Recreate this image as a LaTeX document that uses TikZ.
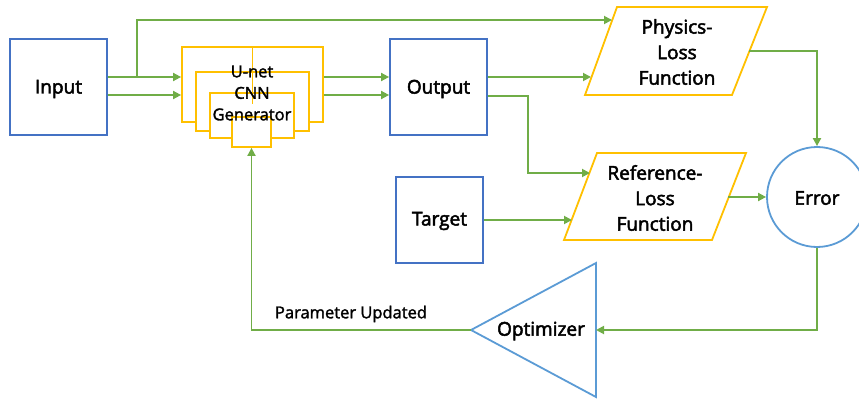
\documentclass[tikz,border=0pt]{standalone}
\usepackage{fontspec}
\setmainfont{Open Sans}
\newfontfamily\semib[FakeBold=2.6]{Open Sans}
\newfontfamily\medf[FakeBold=1.8]{Open Sans}
\usetikzlibrary{arrows.meta}
\definecolor{boxblue}{HTML}{4472C4}
\definecolor{ylw}{HTML}{FFC000}
\definecolor{grn}{HTML}{70AD47}
\definecolor{lblue}{HTML}{5B9BD5}
\begin{document}
\begin{tikzpicture}[x=1pt,y=-1pt,
  bbox/.style={draw=boxblue, line width=1.8pt, inner sep=0pt},
  ybox/.style={draw=ylw, line width=1.8pt, fill=white},
  ln/.style={draw=grn, line width=1.8pt},
  arr/.style={ln, -{Triangle[length=8pt,width=8pt]}},
  lbl/.style={font=\semib\fontsize{19}{25.5}\selectfont, align=center, inner sep=0pt},
  slbl/.style={font=\medf\fontsize{16.5}{21.5}\selectfont, align=center, inner sep=0pt}]
\useasboundingbox (0,0) rectangle (859,401);

% rows
\coordinate (r20) at (0,20);
\coordinate (r51) at (0,51);
\coordinate (r77) at (0,77);
\coordinate (r95) at (0,95);
\coordinate (r173) at (0,173);
\coordinate (r220) at (0,220);
\coordinate (r330) at (0,330);

% Input / Output / Target
\node[bbox, minimum width=97pt, minimum height=96pt] (input) at (58.5,87) {};
\node[lbl] at (58.5,89) {Input};
\node[bbox, minimum width=97pt, minimum height=96pt] (output) at (438.5,87) {};
\node[lbl] at (438.5,89) {Output};
\node[bbox, minimum width=87pt, minimum height=86pt] (target) at (439.5,220) {};
\node[lbl] at (439.5,221) {Target};

% U-net stack
\node[ybox, minimum width=141pt, minimum height=75pt] (u1) at (252.5,84.5) {};
\node[ybox, minimum width=113pt, minimum height=59pt] (u2) at (252.5,101.5) {};
\node[ybox, minimum width=84pt, minimum height=45pt] (u3) at (252,115.5) {};
\node[ybox, minimum width=39pt, minimum height=30pt] (u4) at (251.5,132) {};
\draw[draw=ylw, line width=1.8pt] (u1.north) -- ++(0,58);
\node[slbl] (unet) at (252,93) {U-net\\CNN\\Generator};

% Physics-Loss parallelogram
\coordinate (pA) at (617,7);
\coordinate (pB) at (767,7);
\coordinate (pC) at (732,95);
\coordinate (pD) at (585,95);
\draw[ybox] (pA) -- (pB) -- (pC) -- (pD) -- cycle;
\node[lbl] (phys) at (677,52) {Physics-\\Loss\\Function};
\coordinate (physin1) at (612,20);
\coordinate (physin2) at (591,77);
\coordinate (physout) at (749,51);

% Reference-Loss parallelogram
\coordinate (qA) at (597,153);
\coordinate (qB) at (746,153);
\coordinate (qC) at (712,240);
\coordinate (qD) at (564,240);
\draw[ybox] (qA) -- (qB) -- (qC) -- (qD) -- cycle;
\node[lbl] (ref) at (655,198) {Reference-\\Loss\\Function};
\coordinate (refin1) at (590,173);
\coordinate (refin2) at (572,220);
\coordinate (refout) at (728,197);

% Error
\node[circle, draw=lblue, line width=1.8pt, minimum size=100pt, inner sep=0pt] (err) at (817,197) {};
\node[lbl] at (817,198) {Error};

% Optimizer triangle
\coordinate (oT) at (471,330);
\coordinate (oA) at (596,263);
\coordinate (oB) at (596,397);
\draw[draw=lblue, line width=1.8pt] (oT) -- (oA) -- (oB) -- cycle;
\node[lbl] (opt) at (541,331) {Optimizer};
\coordinate (optin) at (596,330);

% connectors
\coordinate (br) at (137,77);
\draw[arr] (input.east |- r77) -- (u1.west |- r77);
\draw[arr] (input.east |- r95) -- (u1.west |- r95);
\draw[arr] (br) -- (br |- r20) -- (physin1);
\draw[arr] (u1.east |- r77) -- (output.west |- r77);
\draw[arr] (u1.east |- r95) -- (output.west |- r95);
\draw[arr] (output.east |- r77) -- (physin2);
\coordinate (bend) at (528,96);
\draw[arr] (output.east |- bend) -- (bend) -- (bend |- r173) -- (refin1);
\draw[arr] (target.east |- r220) -- (refin2);
\draw[arr] (physout) -- (err.north |- r51) -- (err.north);
\draw[arr] (refout) -- (err.west);
\draw[arr] (err.south) -- (err.south |- r330) -- (optin);
\draw[arr] (oT) -- (u4.south |- r330) -- (u4.south);
\node[font=\medf\fontsize{16.5}{18}\selectfont, inner sep=0pt] (param) at (351,314) {Parameter Updated};
\end{tikzpicture}
\end{document}
